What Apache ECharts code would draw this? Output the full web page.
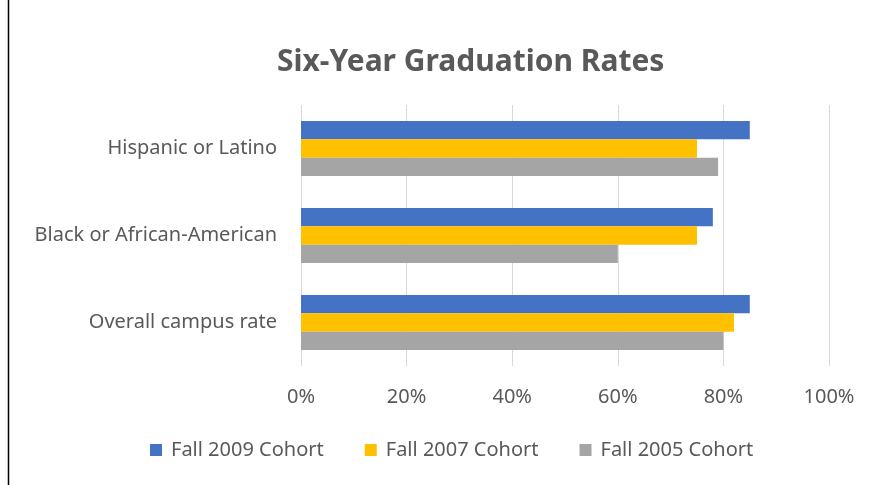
<!DOCTYPE html>
<html>
<head>
<meta charset="utf-8">
<title>Six-Year Graduation Rates</title>
<script src="https://cdn.jsdelivr.net/npm/echarts@6/dist/echarts.min.js"></script>
<style>
    html, body { margin: 0; padding: 0; background: #fff; }
    #chart { width: 874px; height: 485px; }
</style>
</head>
<body>
<div id="chart"></div>
<script>
// categories bottom to top (ECharts y category axis starts at the bottom)
var categories = ['Overall campus rate', 'Black or African-American', 'Hispanic or Latino'];
var seriesNames = ['Fall 2009 Cohort', 'Fall 2007 Cohort', 'Fall 2005 Cohort'];
var fall2009 = [85, 78, 85];
var fall2007 = [82, 75, 75];
var fall2005 = [80, 60, 79];
var xTicks = [0, 20, 40, 60, 80, 100];

var colors = ['#4472C4', '#FFC000', '#A5A5A5'];
var textColor = '#595959';
var font = 'Noto Sans';

function drawChart() {
    var myChart = echarts.init(document.getElementById('chart'));
    var values = [fall2009, fall2007, fall2005];

    var series = [];
    for (var i = 0; i < seriesNames.length; i++) {
        series.push({
            name: seriesNames[i],
            type: 'bar',
            data: values[i],
            barGap: '0%',
            barCategoryGap: '37%',
            itemStyle: { color: colors[i] }
        });
    }

    var option = {
        animation: false,
        textStyle: { fontFamily: font },
        title: {
            text: 'Six-Year Graduation Rates',
            left: 272,
            top: 42,
            textStyle: { fontFamily: font, fontSize: 30, fontWeight: 'bold', color: textColor }
        },
        legend: {
            data: seriesNames,
            top: 435,
            left: 145,
            itemWidth: 12,
            itemHeight: 12,
            itemGap: 41,
            icon: 'rect',
            textStyle: { fontFamily: font, fontSize: 20, color: textColor, padding: [0, 0, 0, 4] }
        },
        grid: { left: 301, right: 45, top: 105, bottom: 119 },
        xAxis: {
            type: 'value',
            min: xTicks[0],
            max: xTicks[xTicks.length - 1],
            interval: 20,
            axisLine: { show: false },
            axisTick: { show: false },
            axisLabel: {
                margin: 21,
                fontSize: 20,
                color: textColor,
                formatter: '{value}%'
            },
            splitLine: { lineStyle: { color: '#d9d9d9', width: 1 } }
        },
        yAxis: {
            type: 'category',
            data: categories,
            axisLine: { show: false },
            axisTick: { show: false },
            axisLabel: { margin: 24, fontSize: 20, color: textColor }
        },
        graphic: [{
            type: 'line',
            shape: { x1: 8.5, y1: 0, x2: 8.5, y2: 485 },
            style: { stroke: '#000', lineWidth: 1.5 }
        }],
        series: series
    };

    option && myChart.setOption(option);
}

drawChart();
</script>
</body>
</html>
